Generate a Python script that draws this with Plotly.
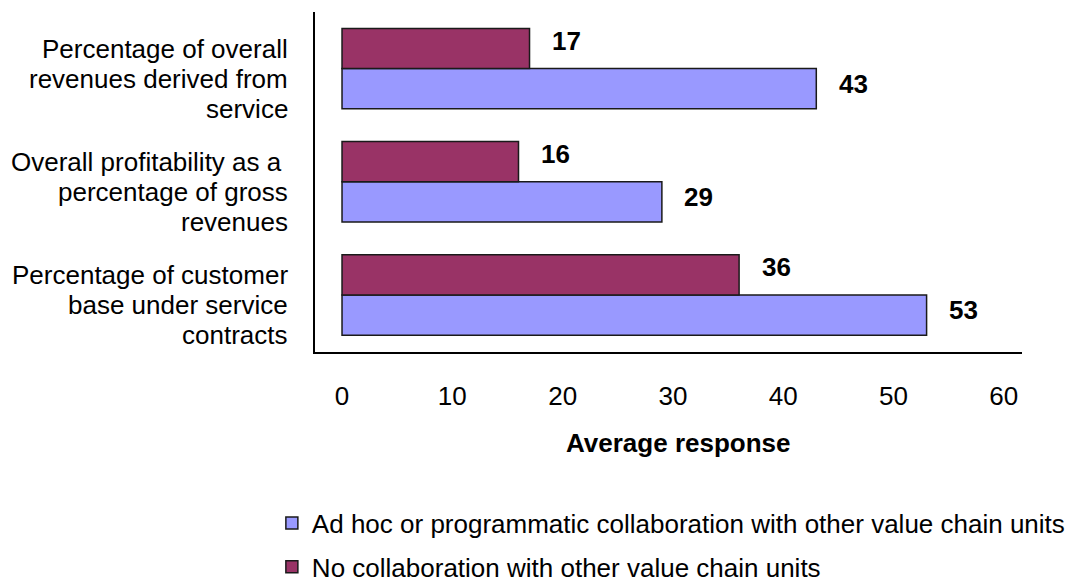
import plotly.graph_objects as go

# Categories listed bottom-to-top (Plotly puts the first category at the bottom)
categories = [
    "Percentage of customer<br>base under service<br>contracts",
    "Overall profitability as a\u00a0<br>percentage of gross<br>revenues",
    "Percentage of overall<br>revenues derived from<br>service",
]
adhoc_values = [53, 29, 43]
nocollab_values = [36, 16, 17]
series_names = [
    "Ad hoc or programmatic collaboration with other value chain units",
    "No collaboration with other value chain units",
]
x_ticks = [0, 10, 20, 30, 40, 50, 60]

FONT = "Liberation Sans, Arial, sans-serif"
BLUE = "#9999FF"
MAROON = "#993366"

fig = go.Figure()
fig.add_trace(go.Bar(
    y=categories, x=adhoc_values, orientation="h", name=series_names[0],
    marker=dict(color=BLUE, line=dict(color="#1a1a1a", width=1.5)),
    legend="legend", hoverinfo="x",
))
fig.add_trace(go.Bar(
    y=categories, x=nocollab_values, orientation="h", name=series_names[1],
    marker=dict(color=MAROON, line=dict(color="#1a1a1a", width=1.5)),
    legend="legend2", hoverinfo="x",
))

annotations = []

# Category labels, one line at a time for tighter line spacing
LINE_STEP = 30
for cat in categories:
    lines = cat.split("<br>")
    for i, line in enumerate(lines):
        annotations.append(dict(
            x=0, xref="paper", y=cat, yref="y", text=line, showarrow=False,
            xanchor="right", yanchor="middle", xshift=-25,
            yshift=-10 + (1 - i) * LINE_STEP,
            font=dict(family=FONT, size=26, color="black"),
        ))

# Value labels beside each bar end
for cat, v in zip(categories, adhoc_values):
    annotations.append(dict(x=v, y=cat, text=f"<b>{v}</b>", showarrow=False,
                            xanchor="center", yanchor="middle", xshift=37, yshift=-15,
                            font=dict(family=FONT, size=26, color="black")))
for cat, v in zip(categories, nocollab_values):
    annotations.append(dict(x=v, y=cat, text=f"<b>{v}</b>", showarrow=False,
                            xanchor="center", yanchor="middle", xshift=37, yshift=28,
                            font=dict(family=FONT, size=26, color="black")))

# Axis title
annotations.append(dict(x=0.513, y=-0.268, xref="paper", yref="paper",
                        text="<b>Average response</b>", showarrow=False,
                        xanchor="center", yanchor="middle",
                        font=dict(family=FONT, size=26, color="black")))

legend_style = dict(
    xanchor="left", yanchor="middle", orientation="v",
    font=dict(family=FONT, size=26, color="black"),
    bgcolor="rgba(0,0,0,0)",
)

fig.update_layout(
    width=1065, height=582,
    margin=dict(l=315, r=43, t=12, b=230, pad=0, autoexpand=False),
    paper_bgcolor="white", plot_bgcolor="white",
    barmode="group", bargap=0.29, bargroupgap=0,
    font=dict(family=FONT, size=26, color="black"),
    annotations=annotations,
    showlegend=True,
    legend=dict(x=-0.061, y=-0.503, **legend_style),
    legend2=dict(x=-0.061, y=-0.632, **legend_style),
)

fig.update_xaxes(
    range=[-2.45, 61.65], tickvals=x_ticks, ticktext=[str(t) for t in x_ticks],
    showgrid=False, zeroline=False,
    showline=True, linecolor="black", linewidth=2,
    ticks="", ticklabelstandoff=20,
    tickfont=dict(family=FONT, size=26, color="black"),
    fixedrange=True,
)
fig.update_yaxes(
    showgrid=False, zeroline=False,
    showline=True, linecolor="black", linewidth=2,
    ticks="", showticklabels=False,
    fixedrange=True,
)

fig.write_html("out.html")
